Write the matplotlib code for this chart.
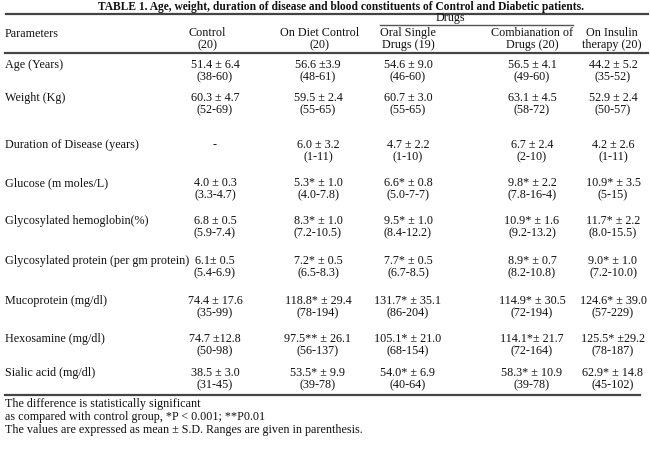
import matplotlib.pyplot as plt

title = 'TABLE 1. Age, weight, duration of disease and blood constituents of Control and Diabetic patients.'

parameters = ['Age (Years)', 'Weight (Kg)', 'Duration of Disease (years)',
              'Glucose (m moles/L)', 'Glycosylated hemoglobin(%)',
              'Glycosylated protein (per gm protein)', 'Mucoprotein (mg/dl)',
              'Hexosamine (mg/dl)', 'Sialic acid (mg/dl)']

groups = [['Control', '(20)'],
          ['On Diet Control', '(20)'],
          ['Oral Single', 'Drugs (19)'],
          ['Combianation of', 'Drugs (20)'],
          ['On Insulin', 'therapy (20)']]

control_mean = ['51.4 \u00b1 6.4', '60.3 \u00b1 4.7', '-', '4.0 \u00b1 0.3', '6.8 \u00b1 0.5',
                '6.1\u00b1 0.5', '74.4 \u00b1 17.6', '74.7 \u00b112.8', '38.5 \u00b1 3.0']
control_range = ['(38-60)', '(52-69)', '', '(3.3-4.7)', '(5.9-7.4)',
                 '(5.4-6.9)', '(35-99)', '(50-98)', '(31-45)']

diet_mean = ['56.6 \u00b13.9', '59.5 \u00b1 2.4', '6.0 \u00b1 3.2', '5.3* \u00b1 1.0', '8.3* \u00b1 1.0',
             '7.2* \u00b1 0.5', '118.8* \u00b1 29.4', '97.5** \u00b1 26.1', '53.5* \u00b1 9.9']
diet_range = ['(48-61)', '(55-65)', '(1-11)', '(4.0-7.8)', '(7.2-10.5)',
              '(6.5-8.3)', '(78-194)', '(56-137)', '(39-78)']

oral_mean = ['54.6 \u00b1 9.0', '60.7 \u00b1 3.0', '4.7 \u00b1 2.2', '6.6* \u00b1 0.8', '9.5* \u00b1 1.0',
             '7.7* \u00b1 0.5', '131.7* \u00b1 35.1', '105.1* \u00b1 21.0', '54.0* \u00b1 6.9']
oral_range = ['(46-60)', '(55-65)', '(1-10)', '(5.0-7-7)', '(8.4-12.2)',
              '(6.7-8.5)', '(86-204)', '(68-154)', '(40-64)']

combo_mean = ['56.5 \u00b1 4.1', '63.1 \u00b1 4.5', '6.7 \u00b1 2.4', '9.8* \u00b1 2.2', '10.9* \u00b1 1.6',
              '8.9* \u00b1 0.7', '114.9* \u00b1 30.5', '114.1*\u00b1 21.7', '58.3* \u00b1 10.9']
combo_range = ['(49-60)', '(58-72)', '(2-10)', '(7.8-16-4)', '(9.2-13.2)',
               '(8.2-10.8)', '(72-194)', '(72-164)', '(39-78)']

insulin_mean = ['44.2 \u00b1 5.2', '52.9 \u00b1 2.4', '4.2 \u00b1 2.6', '10.9* \u00b1 3.5', '11.7* \u00b1 2.2',
                '9.0* \u00b1 1.0', '124.6* \u00b1 39.0', '125.5* \u00b129.2', '62.9* \u00b1 14.8']
insulin_range = ['(35-52)', '(50-57)', '(1-11)', '(5-15)', '(8.0-15.5)',
                 '(7.2-10.0)', '(57-229)', '(78-187)', '(45-102)']

footnotes = ['The difference is statistically significant',
             'as compared with control group, *P < 0.001; **P0.01',
             'The values are expressed as mean \u00b1 S.D. Ranges are given in parenthesis.']

plt.rcParams['font.family'] = ['Liberation Serif', 'DejaVu Serif']
fig = plt.figure(figsize=(6.5, 4.51), dpi=100)
ax = fig.add_axes([0, 0, 1, 1])
ax.set_xlim(0, 650)
ax.set_ylim(451, 0)
ax.axis('off')

ink = '#111111'
fs = 8.7

col_x = [215, 318, 408, 532, 613]
head_x = [207, 320, 408, 532, 612]
row_y = [65, 98, 145, 183, 221, 261, 301, 339, 373]
gap = 12

ax.text(341, 7, title, ha='center', va='center', fontsize=8.3, fontweight='bold', color=ink)
ax.plot([6, 648], [14, 14], color='#444444', lw=1.6)
ax.text(450, 18, 'Drugs', ha='center', va='center', fontsize=fs, color=ink)
ax.plot([380, 573], [25, 25], color='#555555', lw=1.0)

ax.text(5, 34, 'Parameters', ha='left', va='center', fontsize=fs, color=ink)
for x, (l1, l2) in zip(head_x, groups):
    ax.text(x, 33, l1, ha='center', va='center', fontsize=fs, color=ink)
    ax.text(x, 45, l2, ha='center', va='center', fontsize=fs, color=ink)
ax.plot([5, 648], [53, 53], color='#444444', lw=1.6)

columns = [(control_mean, control_range), (diet_mean, diet_range), (oral_mean, oral_range),
           (combo_mean, combo_range), (insulin_mean, insulin_range)]

for i, name in enumerate(parameters):
    y = row_y[i]
    ax.text(5, y, name, ha='left', va='center', fontsize=fs, color=ink)
    for x, (means, ranges) in zip(col_x, columns):
        ax.text(x, y, means[i], ha='center', va='center', fontsize=fs, color=ink)
        if ranges[i]:
            ax.text(x, y + gap, ranges[i], ha='center', va='center', fontsize=fs, color=ink)

ax.plot([5, 640], [395, 395], color='#444444', lw=1.6)

for k, line in enumerate(footnotes):
    ax.text(5, 404 + 13 * k, line, ha='left', va='center', fontsize=fs, color=ink)

fig.savefig('out.png', dpi=100)
